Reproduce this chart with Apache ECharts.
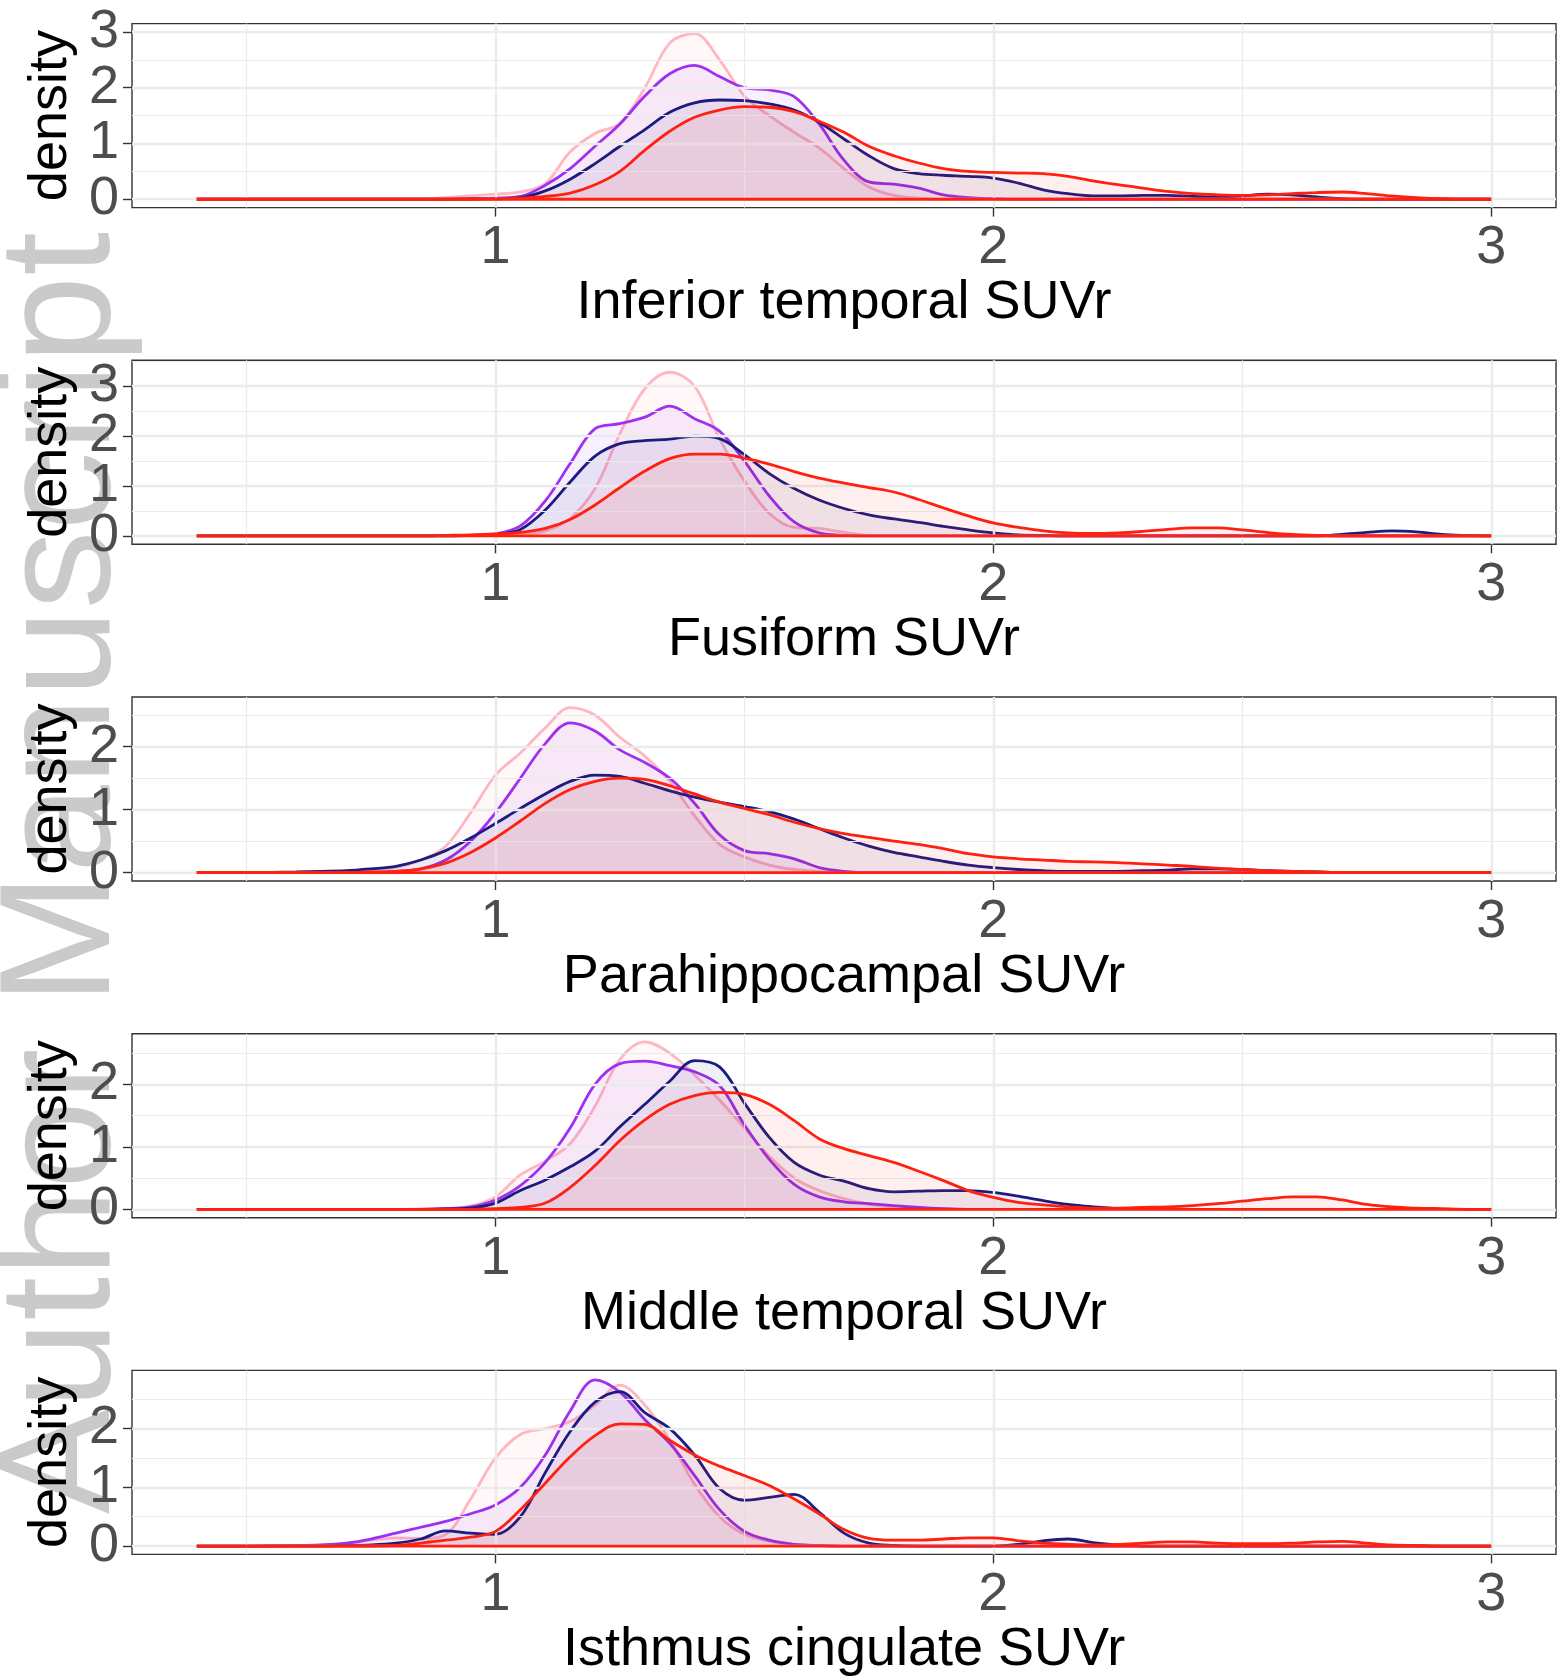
<!DOCTYPE html>
<html>
<head>
<meta charset="utf-8">
<script src="https://cdn.jsdelivr.net/npm/echarts@6/dist/echarts.min.js"></script>
<style>html,body{margin:0;padding:0;background:#fff}#c{width:1560px;height:1679px}</style>
</head>
<body>
<div id="c"></div>
<script>
// evaluation points of the density curves (SUVr)
const xs = [0.40,0.45,0.50,0.55,0.60,0.65,0.70,0.75,0.80,0.85,
            0.90,0.95,1.00,1.05,1.10,1.15,1.20,1.25,1.30,1.35,
            1.40,1.45,1.50,1.55,1.60,1.65,1.70,1.75,1.80,1.85,
            1.90,1.95,2.00,2.05,2.10,2.15,2.20,2.25,2.30,2.35,
            2.40,2.45,2.50,2.55,2.60,2.65,2.70,2.75,2.80,2.85,
            2.90,2.95,3.00];

const titles = ['Inferior temporal SUVr','Fusiform SUVr','Parahippocampal SUVr','Middle temporal SUVr','Isthmus cingulate SUVr'];

// Panel 1: Inferior temporal
const pink1   = [0,0,0,0,0,0,0,0,0,0.01, 0.03,0.06,0.09,0.13,0.28,0.85,1.18,1.36,2.0,2.8, 2.97,2.5,1.85,1.5,1.2,0.92,0.55,0.22,0.07,0.02, 0,0,0,0,0,0,0,0,0,0, 0,0,0,0,0,0,0,0,0,0, 0,0,0];
const purple1 = [0,0,0,0,0,0,0,0,0,0, 0,0.01,0.02,0.05,0.25,0.55,0.95,1.35,1.85,2.25, 2.4,2.2,2.0,1.96,1.84,1.35,0.7,0.31,0.27,0.2, 0.08,0.03,0.01,0,0,0,0,0,0,0, 0,0,0,0,0,0,0,0,0,0, 0,0,0];
const navy1   = [0,0,0,0,0,0,0,0,0,0, 0,0.01,0.01,0.03,0.15,0.36,0.64,0.95,1.25,1.56, 1.73,1.78,1.77,1.71,1.6,1.38,1.08,0.78,0.55,0.46, 0.43,0.41,0.38,0.29,0.17,0.1,0.06,0.06,0.07,0.07, 0.05,0.04,0.06,0.09,0.08,0.04,0.01,0,0,0, 0,0,0];
const red1    = [0,0,0,0,0,0,0,0,0,0, 0,0,0.005,0.02,0.05,0.11,0.26,0.5,0.88,1.22, 1.47,1.6,1.66,1.65,1.57,1.4,1.2,0.95,0.78,0.65, 0.55,0.5,0.48,0.47,0.46,0.41,0.33,0.26,0.2,0.14, 0.1,0.08,0.07,0.08,0.1,0.12,0.13,0.1,0.06,0.03, 0.01,0,0];

// Panel 2: Fusiform
const pink2   = [0,0,0,0,0,0,0,0,0,0, 0,0,0.01,0.03,0.1,0.35,0.95,2.05,2.95,3.28, 3.0,1.95,1.1,0.45,0.17,0.15,0.07,0.01,0,0, 0,0,0,0,0,0,0,0,0,0, 0,0,0,0,0,0,0,0,0,0, 0,0,0];
const purple2 = [0,0,0,0,0,0,0,0,0,0, 0,0.01,0.04,0.2,0.7,1.45,2.15,2.25,2.38,2.6, 2.35,2.1,1.5,0.8,0.28,0.06,0.01,0,0,0, 0,0,0,0,0,0,0,0,0,0, 0,0,0,0,0,0,0,0,0,0, 0,0,0];
const navy2   = [0,0,0,0,0,0,0,0,0,0, 0,0.01,0.03,0.13,0.52,1.08,1.6,1.85,1.91,1.94, 2.0,1.95,1.63,1.25,0.95,0.72,0.55,0.42,0.34,0.27, 0.19,0.12,0.06,0.02,0.01,0,0,0,0,0, 0,0,0,0,0,0,0.03,0.07,0.1,0.08, 0.03,0.01,0];
const red2    = [0,0,0,0,0,0,0,0,0,0, 0.01,0.02,0.04,0.07,0.15,0.33,0.62,0.97,1.3,1.55, 1.64,1.64,1.56,1.44,1.29,1.16,1.06,0.97,0.88,0.73, 0.56,0.4,0.26,0.17,0.1,0.06,0.05,0.06,0.09,0.13, 0.16,0.16,0.12,0.07,0.03,0.01,0,0,0,0, 0,0,0];

// Panel 3: Parahippocampal
const pink3   = [0,0,0,0,0,0,0.01,0.03,0.08,0.2, 0.42,0.95,1.55,1.9,2.3,2.62,2.5,2.15,1.85,1.45, 0.9,0.45,0.25,0.12,0.05,0.02,0,0,0,0, 0,0,0,0,0,0,0,0,0,0, 0,0,0,0,0,0,0,0,0,0, 0,0,0];
const purple3 = [0,0,0,0,0,0,0,0,0.02,0.06, 0.2,0.5,0.95,1.5,2.05,2.38,2.25,1.95,1.75,1.5, 1.1,0.6,0.35,0.3,0.22,0.08,0.02,0,0,0, 0,0,0,0,0,0,0,0,0,0, 0,0,0,0,0,0,0,0,0,0, 0,0,0];
const navy3   = [0,0,0,0.005,0.01,0.02,0.03,0.06,0.1,0.2, 0.35,0.55,0.78,1.02,1.25,1.45,1.55,1.53,1.42,1.3, 1.2,1.12,1.05,0.97,0.85,0.7,0.55,0.42,0.32,0.25, 0.18,0.12,0.08,0.05,0.03,0.02,0.02,0.02,0.03,0.04, 0.06,0.06,0.05,0.03,0.02,0.01,0,0,0,0, 0,0,0];
const red3    = [0,0,0,0,0,0,0,0.01,0.02,0.06, 0.15,0.32,0.55,0.82,1.1,1.32,1.45,1.5,1.48,1.38, 1.25,1.12,1.02,0.92,0.8,0.7,0.62,0.56,0.5,0.45, 0.38,0.3,0.25,0.22,0.2,0.18,0.17,0.16,0.14,0.12, 0.1,0.07,0.05,0.03,0.02,0.01,0,0,0,0, 0,0,0];

// Panel 4: Middle temporal
const pink4   = [0,0,0,0,0,0,0,0,0,0.005, 0.01,0.05,0.2,0.55,0.77,1.05,1.65,2.4,2.68,2.5, 2.15,1.75,1.3,0.85,0.5,0.3,0.17,0.08,0.04,0.01, 0,0,0,0,0,0,0,0,0,0, 0,0,0,0,0,0,0,0,0,0, 0,0,0];
const purple4 = [0,0,0,0,0,0,0,0,0,0, 0.01,0.04,0.15,0.38,0.75,1.3,2.0,2.33,2.37,2.3, 2.2,1.98,1.35,0.8,0.4,0.2,0.12,0.09,0.06,0.03, 0.01,0,0,0,0,0,0,0,0,0, 0,0,0,0,0,0,0,0,0,0, 0,0,0];
const navy4   = [0,0,0,0,0,0,0,0,0,0, 0.005,0.02,0.1,0.3,0.47,0.68,0.93,1.32,1.68,2.05, 2.38,2.28,1.7,1.15,0.75,0.55,0.45,0.33,0.28,0.29, 0.3,0.3,0.27,0.21,0.14,0.08,0.04,0.01,0,0, 0,0,0,0,0,0,0,0,0,0, 0,0,0];
const red4    = [0,0,0,0,0,0,0,0,0,0, 0,0,0.01,0.03,0.1,0.35,0.7,1.1,1.43,1.68, 1.82,1.87,1.84,1.68,1.42,1.13,0.97,0.86,0.75,0.61, 0.46,0.3,0.19,0.11,0.07,0.04,0.02,0.02,0.03,0.04, 0.06,0.09,0.13,0.17,0.2,0.2,0.15,0.08,0.04,0.02, 0.01,0,0];

// Panel 5: Isthmus cingulate
const pink5   = [0,0,0,0,0.01,0.02,0.04,0.1,0.14,0.13, 0.2,0.8,1.5,1.9,2.0,2.12,2.4,2.74,2.4,1.8, 1.05,0.5,0.2,0.08,0.03,0.01,0,0,0,0, 0,0,0,0,0,0,0,0,0,0, 0,0,0,0,0,0,0,0,0,0, 0,0,0];
const purple5 = [0,0,0,0.005,0.01,0.02,0.05,0.12,0.22,0.32, 0.42,0.55,0.7,1.0,1.55,2.3,2.83,2.62,2.15,1.75, 1.2,0.62,0.25,0.1,0.03,0.01,0,0,0,0, 0,0,0,0,0,0,0,0,0,0, 0,0,0,0,0,0,0,0,0,0, 0,0,0];
const navy5   = [0,0,0,0,0,0,0.01,0.02,0.05,0.12, 0.26,0.22,0.2,0.5,1.25,1.95,2.45,2.63,2.27,2.0, 1.55,0.98,0.78,0.83,0.88,0.58,0.22,0.05,0.01,0, 0,0,0,0.03,0.09,0.12,0.06,0.02,0,0, 0,0,0,0,0,0,0,0,0,0, 0,0,0];
const red5    = [0,0,0,0,0,0,0,0,0.01,0.05, 0.1,0.15,0.25,0.62,1.07,1.52,1.88,2.08,2.07,1.8, 1.55,1.36,1.2,1.03,0.8,0.55,0.28,0.13,0.1,0.1, 0.12,0.14,0.14,0.09,0.05,0.03,0.02,0.03,0.05,0.07, 0.07,0.05,0.04,0.04,0.05,0.07,0.08,0.05,0.02,0.01, 0,0,0];

const panelData = [
  [pink1, purple1, navy1, red1],
  [pink2, purple2, navy2, red2],
  [pink3, purple3, navy3, red3],
  [pink4, purple4, navy4, red4],
  [pink5, purple5, navy5, red5]
];

// axis ranges and tick labels
const xMin = 0.27, xMax = 3.13;
const xTicks = [1, 2, 3];
const xMinor = [0.5, 1.5, 2.5];
const yMin = [-0.15, -0.168, -0.133, -0.134, -0.142];
const yMax = [3.15, 3.52, 2.79, 2.81, 2.99];
const yTicks = [[0,1,2,3],[0,1,2,3],[0,1,2],[0,1,2],[0,1,2]];
const yMinor = [[0.5,1.5,2.5],[0.5,1.5,2.5,3.5],[0.5,1.5,2.5],[0.5,1.5,2.5],[0.5,1.5,2.5]];

const lineColors = ['#FFB6C1', '#A030F0', '#1C1C80', '#FF2010'];
const fillColors = ['rgba(255,182,193,0.15)', 'rgba(160,48,240,0.10)', 'rgba(28,28,128,0.10)', 'rgba(255,32,16,0.10)'];

const FONT = '"Liberation Sans", Arial, Helvetica, sans-serif';
const TOP0 = 23.6, STEP = 336.7, PH = 184;

const grids = [], xAxes = [], yAxes = [], series = [];
function yAxisDef(p, values, withName) {
  return {gridIndex: p, type: 'value', position: 'left', offset: 0, min: yMin[p], max: yMax[p],
    axisLine: {show: false, onZero: false},
    axisTick: {show: true, customValues: values, length: 9, lineStyle: {color: '#333333', width: 1.4}},
    axisLabel: {customValues: values, fontSize: 54, color: '#4D4D4D', margin: 13, fontFamily: FONT,
      showMinLabel: true, showMaxLabel: true, hideOverlap: false},
    splitLine: {show: false},
    name: withName ? 'density' : '', nameLocation: 'middle', nameGap: 49, nameRotate: 90,
    nameTextStyle: {fontSize: 54, color: '#000000', fontFamily: FONT}};
}
for (let p = 0; p < 5; p++) {
  grids.push({left: 132, right: 4, top: TOP0 + STEP * p, height: PH, show: true,
    borderColor: '#333333', borderWidth: 1.4, backgroundColor: 'transparent'});
  xAxes.push({gridIndex: p, type: 'value', min: xMin, max: xMax,
    axisLine: {show: false, onZero: false},
    axisTick: {show: true, customValues: xTicks, length: 9, lineStyle: {color: '#333333', width: 1.4}},
    axisLabel: {customValues: xTicks, fontSize: 54, color: '#4D4D4D', margin: 14, fontFamily: FONT,
      showMinLabel: true, showMaxLabel: true, hideOverlap: false},
    splitLine: {show: false},
    name: titles[p], nameLocation: 'middle', nameGap: 69,
    nameTextStyle: {fontSize: 54, color: '#000000', fontFamily: FONT}});
  // labels split over two co-located axes so that none are dropped as overlapping
  const evenT = yTicks[p].filter((v, i) => i % 2 === 0);
  const oddT = yTicks[p].filter((v, i) => i % 2 === 1);
  const yi = yAxes.length;
  yAxes.push(yAxisDef(p, evenT, true));
  yAxes.push(yAxisDef(p, oddT, false));

  // gridlines (behind the curves)
  const ml = [];
  xTicks.forEach(v => ml.push({xAxis: v, lineStyle: {color: '#EBEBEB', width: 2.4, type: 'solid'}}));
  xMinor.forEach(v => ml.push({xAxis: v, lineStyle: {color: '#EBEBEB', width: 1.2, type: 'solid'}}));
  yTicks[p].forEach(v => ml.push({yAxis: v, lineStyle: {color: '#EBEBEB', width: 2.4, type: 'solid'}}));
  yMinor[p].forEach(v => { if (v < yMax[p]) ml.push({yAxis: v, lineStyle: {color: '#EBEBEB', width: 1.2, type: 'solid'}}); });
  series.push({type: 'line', xAxisIndex: p, yAxisIndex: yi, data: [], silent: true, z: 1,
    markLine: {silent: true, symbol: ['none', 'none'], animation: false, label: {show: false},
      emphasis: {disabled: true}, data: ml}});

  panelData[p].forEach((vals, g) => {
    series.push({type: 'line', xAxisIndex: p, yAxisIndex: yi, z: 2 + g,
      data: xs.map((x, i) => [x, vals[i]]),
      smooth: 0.35, symbol: 'none', silent: true,
      lineStyle: {color: lineColors[g], width: 2.8},
      areaStyle: {color: fillColors[g]}});
  });
  // bottom outline of the red density polygon
  series.push({type: 'line', xAxisIndex: p, yAxisIndex: yi, z: 7, silent: true, symbol: 'none',
    data: [[xs[0], 0], [xs[xs.length - 1], 0]],
    lineStyle: {color: lineColors[3], width: 2.8}});
}

const chart = echarts.init(document.getElementById('c'), null, {renderer: 'canvas'});
chart.setOption({
  animation: false,
  backgroundColor: '#ffffff',
  grid: grids, xAxis: xAxes, yAxis: yAxes, series: series,
  graphic: [{type: 'text', z: -10, silent: true, x: 65, y: 873, rotation: Math.PI / 2,
    style: {text: 'Author Manuscript', fontSize: 158, fontFamily: FONT, fill: '#CACACA',
      align: 'center', verticalAlign: 'middle', textAlign: 'center', textVerticalAlign: 'middle'}}]
});
</script>
</body>
</html>
